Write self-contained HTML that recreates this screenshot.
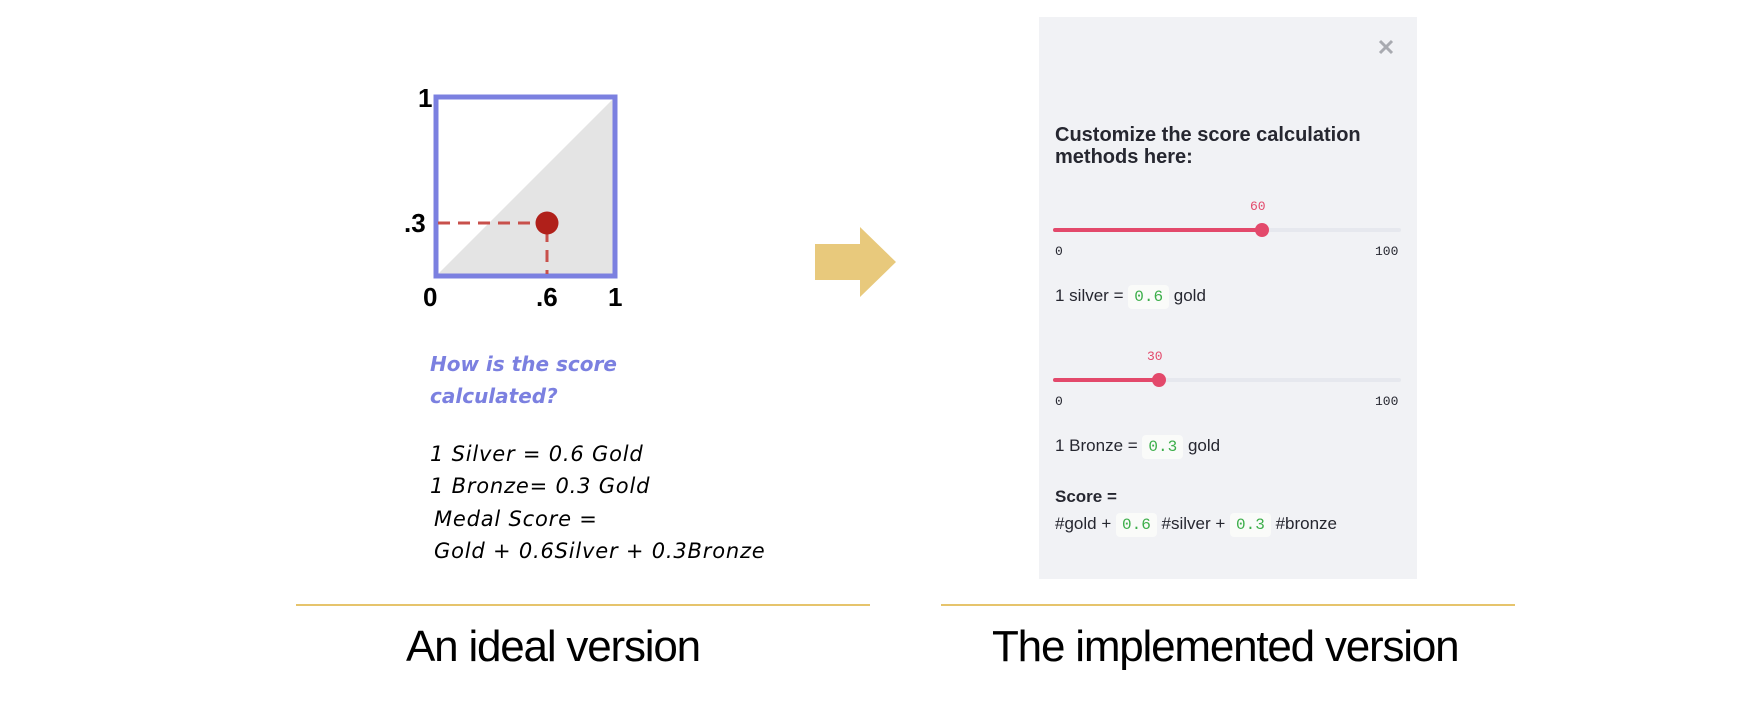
<!DOCTYPE html>
<html><head><meta charset="utf-8"><style>
html,body{margin:0;padding:0;background:#fff;}
body{width:1744px;height:706px;position:relative;overflow:hidden;font-family:"Liberation Sans",sans-serif;}
.a{position:absolute;white-space:nowrap;}
.hand{font-family:"DejaVu Sans",sans-serif;font-style:oblique;}
.mono{font-family:"Liberation Mono",monospace;}
.code{background:#fafbf9;color:#3cae4a;font-family:"Liberation Mono",monospace;border-radius:4px;padding:3px 6px;font-size:16px;}
.t{font-size:17px;color:#262730;}
</style></head><body>
<svg class="a" style="left:0;top:0" width="1744" height="706">
  <polygon points="436,276 615,97 615,276" fill="#e4e4e4"/>
  <rect x="436" y="97" width="179" height="179" fill="none" stroke="#7b80e0" stroke-width="5"/>
  <line x1="438" y1="223" x2="540" y2="223" stroke="#c8504b" stroke-width="3" stroke-dasharray="12,8"/>
  <line x1="547" y1="230" x2="547" y2="274" stroke="#c8504b" stroke-width="3" stroke-dasharray="12,8"/>
  <circle cx="547" cy="223" r="11.5" fill="#b0201a"/>
  <polygon points="815,244 860,244 860,227 896,262 860,297 860,280 815,280" fill="#e8c97c"/>
  <line x1="296" y1="605" x2="870" y2="605" stroke="#e6c46c" stroke-width="2"/>
  <line x1="941" y1="605" x2="1515" y2="605" stroke="#e6c46c" stroke-width="2"/>
  <rect x="1039" y="17" width="378" height="562" fill="#f1f2f5"/>
  <g stroke="#a8aab0" stroke-width="3"><line x1="1380" y1="41" x2="1392" y2="53"/><line x1="1392" y1="41" x2="1380" y2="53"/></g>
  <line x1="1055" y1="230" x2="1399" y2="230" stroke="#e6e8ee" stroke-width="4" stroke-linecap="round"/>
  <line x1="1055" y1="230" x2="1262" y2="230" stroke="#e3496b" stroke-width="4" stroke-linecap="round"/>
  <circle cx="1262" cy="230" r="7" fill="#e3496b"/>
  <line x1="1055" y1="380" x2="1399" y2="380" stroke="#e6e8ee" stroke-width="4" stroke-linecap="round"/>
  <line x1="1055" y1="380" x2="1159" y2="380" stroke="#e3496b" stroke-width="4" stroke-linecap="round"/>
  <circle cx="1159" cy="380" r="7" fill="#e3496b"/>
</svg>
<div class="a" style="left:418px;top:83px;font-size:26px;font-weight:bold;">1</div>
<div class="a" style="left:404px;top:208px;font-size:26px;font-weight:bold;">.3</div>
<div class="a" style="left:423px;top:282px;font-size:26px;font-weight:bold;">0</div>
<div class="a" style="left:536px;top:282px;font-size:26px;font-weight:bold;">.6</div>
<div class="a" style="left:608px;top:282px;font-size:26px;font-weight:bold;">1</div>
<div class="a hand" style="left:430px;top:348px;font-size:20px;font-weight:bold;color:#7b80e0;line-height:32px;">How is the score<br>calculated?</div>
<div class="a hand" style="left:430px;top:438px;font-size:21px;letter-spacing:0.8px;line-height:32px;">1 Silver = 0.6 Gold<br>1 Bronze= 0.3 Gold</div>
<div class="a hand" style="left:434px;top:503px;font-size:21px;letter-spacing:0.8px;line-height:32px;">Medal Score =<br>Gold + 0.6Silver + 0.3Bronze</div>
<div class="a" style="left:406px;top:622px;font-size:44px;letter-spacing:-1.2px;">An ideal version</div>
<div class="a" style="left:992px;top:622px;font-size:44px;letter-spacing:-1.2px;">The implemented version</div>
<div class="a" style="left:1055px;top:124px;font-size:20px;font-weight:bold;color:#262730;line-height:22px;">Customize the score calculation<br>methods here:</div>
<div class="a mono" style="left:1250px;top:199px;font-size:13px;color:#e3496b;">60</div>
<div class="a mono" style="left:1055px;top:244px;font-size:13px;color:#262730;">0</div>
<div class="a mono" style="left:1375px;top:244px;font-size:13px;color:#262730;">100</div>
<div class="a t" style="left:1055px;top:286px;">1 silver = <span class="code">0.6</span> gold</div>
<div class="a mono" style="left:1147px;top:349px;font-size:13px;color:#e3496b;">30</div>
<div class="a mono" style="left:1055px;top:394px;font-size:13px;color:#262730;">0</div>
<div class="a mono" style="left:1375px;top:394px;font-size:13px;color:#262730;">100</div>
<div class="a t" style="left:1055px;top:436px;">1 Bronze = <span class="code">0.3</span> gold</div>
<div class="a t" style="left:1055px;top:487px;font-weight:bold;">Score =</div>
<div class="a t" style="left:1055px;top:514px;">#gold + <span class="code">0.6</span> #silver + <span class="code">0.3</span> #bronze</div>
</body></html>
